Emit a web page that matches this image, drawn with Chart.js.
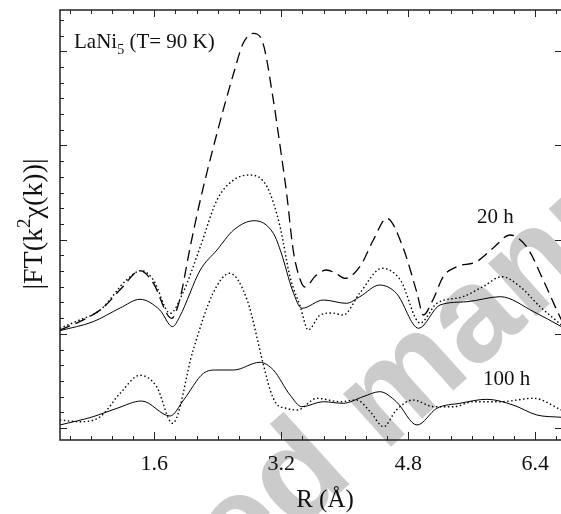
<!DOCTYPE html>
<html><head><meta charset="utf-8">
<script src="https://cdn.jsdelivr.net/npm/chart.js@4.4.1/dist/chart.umd.min.js"></script>
<style>html,body{margin:0;padding:0;background:#fff;overflow:hidden}</style>
</head><body>
<canvas id="c" width="561" height="514"></canvas>
<script>
// R (Å) and |FT| (arbitrary units)
const r20Dashed = [0.41,0.66,0.95,1.19,1.42,1.58,1.82,1.92,2.05,2.18,2.39,2.60,2.72,2.85,2.97,3.10,3.18,3.27,3.35,3.44,3.50,3.63,3.77,3.88,4.00,4.19,4.36,4.53,4.73,4.91,4.99,5.11,5.24,5.41,5.66,5.87,6.08,6.29,6.50,6.67,6.73];
const v20Dashed = [110,118.3,132,152,169.3,158,121.7,140,192,240,306.7,366.7,396.7,406.7,396.7,340,296.7,245,190,160,153,164,170,167,161.7,173.3,200,221.7,193.3,147,125,140,163.3,173.3,178.3,192,205,193.3,160,130,120];

const r20Dotted = [0.41,0.66,0.92,1.25,1.44,1.59,1.80,1.96,2.18,2.39,2.60,2.80,3.02,3.18,3.31,3.44,3.54,3.69,3.84,3.98,4.19,4.47,4.70,4.95,5.16,5.49,5.74,5.98,6.21,6.46,6.73];
const v20Dotted = [111.7,120,130,160,169.3,160,126.7,147,193.3,240,260,265,253.3,215,163.3,133.3,110,125,127,125,147,171.7,160,117,136.7,143.3,153.3,163.3,153.3,133.3,115];

const r20Solid = [0.41,0.83,1.17,1.42,1.67,1.83,1.92,2.18,2.39,2.60,2.86,3.10,3.20,3.34,3.46,3.73,4.02,4.19,4.44,4.65,4.93,5.20,5.54,5.96,6.38,6.73];
const v20Solid = [109.3,118.3,132,140.7,130,113.3,123.3,170,190,210,219.3,206.7,187,150,131.7,140,136.7,143.3,155,146.7,111.7,135,138.3,143.3,128.3,113.3];

const r100Dotted = [0.41,0.66,0.92,1.17,1.42,1.63,1.83,2.09,2.34,2.55,2.77,2.97,3.06,3.14,3.25,3.40,3.65,3.94,4.15,4.32,4.49,4.65,4.86,5.12,5.37,5.62,5.96,6.38,6.73];
const v100Dotted = [20,18.3,23.3,46.7,64.7,53.3,16.7,90,146.7,166.7,140,77,50,36,32,30,41.7,38.3,40,28.3,13.3,30,40,33.3,33.3,38.3,38.3,41.7,30];

const r100Solid = [0.41,0.83,1.13,1.44,1.80,1.97,2.22,2.39,2.60,2.93,3.10,3.31,3.46,3.73,3.98,4.23,4.44,4.65,4.91,5.16,5.45,5.79,6.12,6.42,6.73];
const v100Solid = [15,23.3,31.7,39,24,40,66.7,70,70,77.7,70,45,33.3,38.3,36.7,43.3,48.3,38.3,15,31.7,36.7,40.7,35,25,22.7];

// axes
const xMin = 0.4125, xMax = 6.724;
const yMin = 0, yMax = 430;
const xTickLabels = ['1.6','3.2','4.8','6.4'];
const xMajorValues = [1.6,3.2,4.8,6.4];
const xMinorStep = 1.6/6;
const yTickStart = 12, yTickStep = 15.7, yTickCount = 27;

const pts = (r, v) => r.map((x, i) => ({x, y: v[i]}));
const base = {pointRadius: 0, borderColor: '#000', fill: false, cubicInterpolationMode: 'monotone'};

const SERIF = '"Liberation Serif","Times New Roman",serif';

const deco = {
  id: 'deco',
  beforeDraw(chart) {
    const ctx = chart.ctx;
    ctx.save();
    ctx.fillStyle = '#fff';
    ctx.fillRect(0, 0, chart.width, chart.height);
    ctx.font = 'bold 135px "Liberation Sans", Arial, sans-serif';
    ctx.fillStyle = '#cbcbcb';
    const pre = ctx.measureText('Accepted ').width;
    ctx.translate(384, 453);
    ctx.rotate(-42 * Math.PI / 180);
    ctx.textAlign = 'left';
    ctx.textBaseline = 'alphabetic';
    ctx.fillText('Accepted manuscript', -pre, 0);
    ctx.restore();
  },
  afterDraw(chart) {
    const ctx = chart.ctx, a = chart.chartArea, x = chart.scales.x, y = chart.scales.y;
    ctx.save();
    ctx.strokeStyle = '#222';
    ctx.lineWidth = 1.5;
    ctx.beginPath();
    ctx.moveTo(chart.width, a.top); ctx.lineTo(a.left, a.top); ctx.lineTo(a.left, a.bottom); ctx.lineTo(chart.width, a.bottom);
    ctx.stroke();
    ctx.lineWidth = 1;
    ctx.beginPath();
    for (let k = 2; k <= 25; k++) {
      const px = Math.round(x.getPixelForValue(k * xMinorStep)) + 0.5;
      const major = k % 6 === 0;
      ctx.moveTo(px, a.bottom); ctx.lineTo(px, a.bottom - (major ? 8 : 4));
      ctx.moveTo(px, a.top); ctx.lineTo(px, a.top + (major ? 7 : 4));
    }
    for (let k = 0; k < yTickCount; k++) {
      const py = Math.round(y.getPixelForValue(yTickStart + k * yTickStep)) + 0.5;
      const major = k % 6 === 0;
      ctx.moveTo(a.left, py); ctx.lineTo(a.left + (major ? 7 : 4), py);
      if (major) { ctx.moveTo(a.right, py); ctx.lineTo(a.right - 6, py); }
    }
    ctx.stroke();

    ctx.fillStyle = '#111';
    ctx.textBaseline = 'alphabetic';
    ctx.textAlign = 'center';
    ctx.font = '22px ' + SERIF;
    xMajorValues.forEach((v, i) => ctx.fillText(xTickLabels[i], x.getPixelForValue(v), 470));
    ctx.font = '25px ' + SERIF;
    ctx.fillText('R (Å)', 325, 507);

    // y title
    ctx.save();
    ctx.translate(42, 224);
    ctx.rotate(-Math.PI / 2);
    ctx.textAlign = 'left';
    const m1 = '|FT(k', m2 = 'χ(k))|';
    ctx.font = '28px ' + SERIF;
    const w1 = ctx.measureText(m1).width, w2 = ctx.measureText(m2).width;
    ctx.font = '19px ' + SERIF;
    const ws = ctx.measureText('2').width;
    const start = -(w1 + ws + w2) / 2;
    ctx.font = '28px ' + SERIF;
    ctx.fillText(m1, start, 0);
    ctx.fillText(m2, start + w1 + ws, 0);
    ctx.font = '19px ' + SERIF;
    ctx.fillText('2', start + w1, -12);
    ctx.restore();

    // annotations
    ctx.textAlign = 'left';
    ctx.font = '21px ' + SERIF;
    ctx.fillText('LaNi', 74, 48);
    const wl = ctx.measureText('LaNi').width;
    ctx.font = '14px ' + SERIF;
    ctx.fillText('5', 74 + wl, 54);
    const w5 = ctx.measureText('5').width;
    ctx.font = '21px ' + SERIF;
    ctx.fillText(' (T= 90 K)', 74 + wl + w5, 48);
    ctx.fillText('20 h', 477, 223);
    ctx.fillText('100 h', 483, 385);
    ctx.restore();
  }
};

new Chart(document.getElementById('c'), {
  type: 'line',
  data: {
    datasets: [
      Object.assign({label: '20 h dashed', data: pts(r20Dashed, v20Dashed), borderWidth: 1.3, borderDash: [11, 6]}, base),
      Object.assign({label: '20 h dotted', data: pts(r20Dotted, v20Dotted), borderWidth: 1.4, borderDash: [1.5, 2.5]}, base),
      Object.assign({label: '20 h solid', data: pts(r20Solid, v20Solid), borderWidth: 1}, base),
      Object.assign({label: '100 h dotted', data: pts(r100Dotted, v100Dotted), borderWidth: 1.4, borderDash: [1.5, 2.5]}, base),
      Object.assign({label: '100 h solid', data: pts(r100Solid, v100Solid), borderWidth: 1}, base)
    ]
  },
  options: {
    responsive: false,
    animation: false,
    devicePixelRatio: 1,
    layout: {padding: {left: 60, right: 0, top: 10, bottom: 74}},
    plugins: {legend: {display: false}, tooltip: {enabled: false}},
    scales: {
      x: {type: 'linear', min: xMin, max: xMax, display: false},
      y: {type: 'linear', min: yMin, max: yMax, display: false}
    }
  },
  plugins: [deco]
});
</script>
</body></html>
